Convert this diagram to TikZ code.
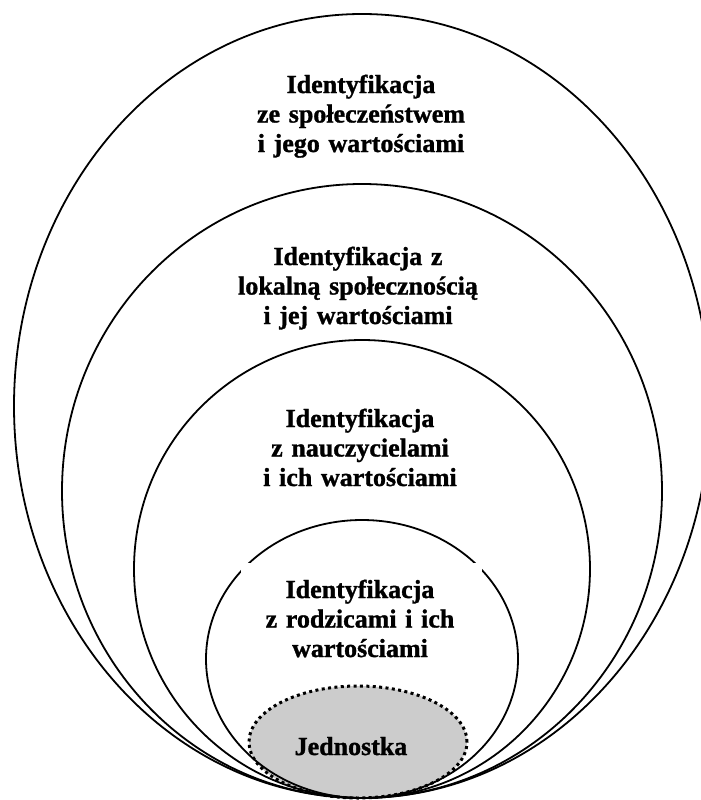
\documentclass[tikz,border=0pt]{standalone}
\usepackage{fontspec}
\setmainfont{Liberation Serif}[BoldFeatures={FakeBold=1.2}]
\begin{document}
\begin{tikzpicture}[x=1pt,y=-1pt,
  ring/.style={draw=black, line width=1.8pt},
  core/.style={draw=black, fill=black!20, line width=3pt, dash pattern=on 3pt off 3.4pt},
  label/.style={align=center, text width=320pt, inner sep=0pt, anchor=base,
    font=\bfseries\fontsize{26}{29.5}\selectfont}
]
\useasboundingbox (0,0) rectangle (701,800);
\clip (0,0) rectangle (701,800);

% innermost individual
\draw[core] (358,742) ellipse [x radius=109pt, y radius=56pt];

% nested circles of identification, all touching at the bottom
\draw[ring] (362,406) ellipse [x radius=348pt, y radius=392pt];
\draw[ring] (362,491) ellipse [x radius=300pt, y radius=307pt];
\draw[ring] (362,569) ellipse [x radius=228pt, y radius=229pt];
\draw[ring] (362,659) ellipse [x radius=156pt, y radius=139pt];

% white backing behind the parents' label
\fill[white] (241,563) rectangle (482,672);

\node[label] (society) at (361,93)  {Identyfikacja\\ze społeczeństwem\\i jego wartościami};
\node[label] (local)   at (358,265) {Identyfikacja z\\lokalną społecznością\\i jej wartościami};
\node[label] (teach)   at (360,427) {Identyfikacja\\z nauczycielami\\i ich wartościami};
\node[label] (parents) at (360,598) {Identyfikacja\\z rodzicami i ich\\wartościami};
\node[label] (self)    at (351,755) {Jednostka};
\end{tikzpicture}
\end{document}
